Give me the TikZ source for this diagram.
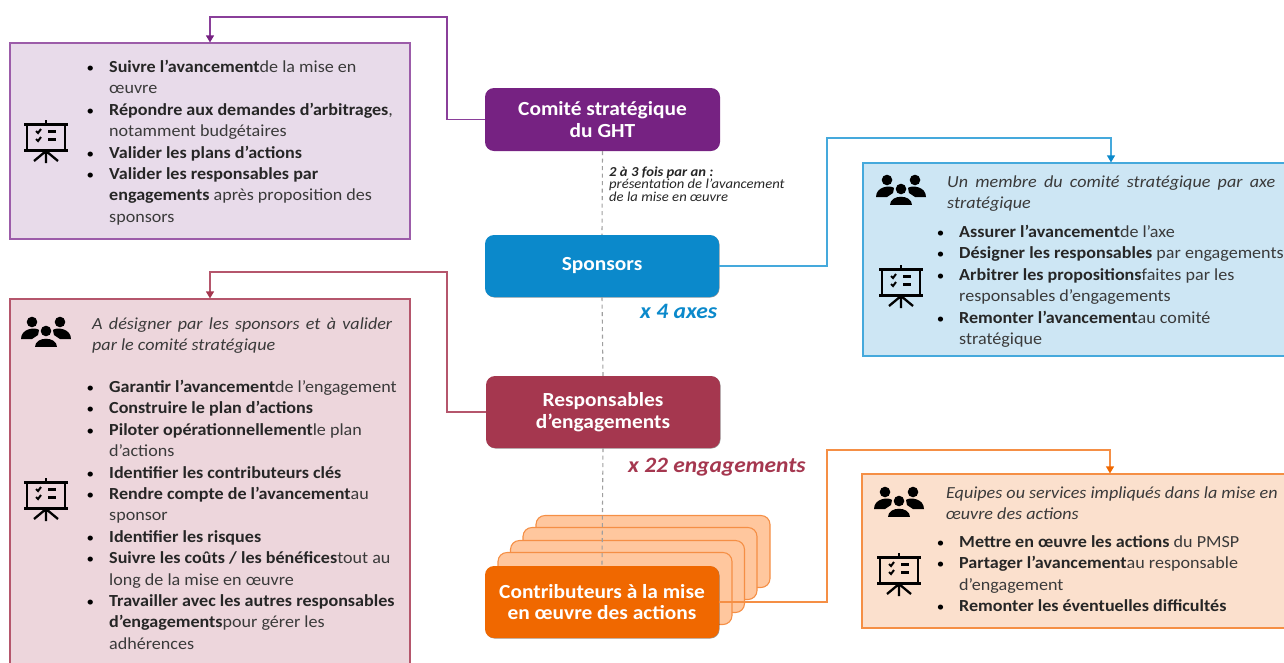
\documentclass[tikz,border=0pt]{standalone}
\usepackage{fontspec}
\setmainfont[FakeStretch=1.07]{Carlito}
\usetikzlibrary{arrows.meta,shadows}
\definecolor{cpurple}{HTML}{762282}
\definecolor{lpurple}{HTML}{8A3F9A}
\definecolor{fpurple}{HTML}{E8DBEA}
\definecolor{cblue}{HTML}{0B89CB}
\definecolor{lblue}{HTML}{45A9DC}
\definecolor{fblue}{HTML}{CDE6F4}
\definecolor{cred}{HTML}{A5374F}
\definecolor{lred}{HTML}{B5566C}
\definecolor{fred}{HTML}{EDD6DC}
\definecolor{corange}{HTML}{F06800}
\definecolor{lorange}{HTML}{F58F45}
\definecolor{forange}{HTML}{FBE0CD}
\definecolor{fcard}{HTML}{FFC79E}
\definecolor{ctext}{HTML}{3A3A3A}
\newcommand\bl{\leavevmode\llap{{\fontsize{14}{14}\selectfont\color{black}\textbullet}\hspace{15pt}}}
\newcommand\fl{\rule{0pt}{12pt}}
\newcommand\bb[1]{\textbf{\color{black!85}#1}}
\tikzset{
  infobox/.style={draw,line width=1.2pt,minimum height=#1,inner sep=0pt},
  head/.style={rounded corners=9pt,minimum width=234pt,text=white,inner sep=0pt,align=center,
    font=\fontsize{20}{21.4}\selectfont\bfseries},
  shadowed/.style={drop shadow={shadow xshift=0.5pt,shadow yshift=-0.5pt,opacity=.4,fill=black}},
  stackcard/.style={draw=lorange,fill=fcard,line width=1.1pt,rounded corners=9pt,minimum width=234pt,minimum height=72pt,inner sep=0pt},
  body/.style={anchor=north west,inner sep=0pt,align=left,text=ctext,font=\fontsize{16.9}{21.4}\selectfont},
  board/.pic={
    \draw[line width=2.6pt] (-19,4) -- (-19,30) (19,4) -- (19,30);
    \draw[line width=3pt] (-22,4) -- (22,4) (-22,30) -- (22,30);
    \draw[line width=1.8pt] (0,0) -- (0,4);
    \draw[line width=2.3pt] (-12,41) -- (0,31) -- (12,41) (0,31) -- (0,43);
    \draw[line width=2pt] (-10,11) -- (-8,13) -- (-5,9) (-10,19) -- (-8,21) -- (-5,17);
    \draw[line width=2.4pt] (2,11.5) -- (10,11.5) (2,19.5) -- (10,19.5);
  },
  people/.pic={
    \fill (-14,-9) circle (5.3pt) (14,-9) circle (5.3pt) (0,0) circle (5.3pt);
    \fill (-25,8) .. controls (-25,-3) and (-10,-4) .. (-7,-1) -- (-8,4) -- (-14,8) -- cycle;
    \fill (25,8) .. controls (25,-3) and (10,-4) .. (7,-1) -- (8,4) -- (14,8) -- cycle;
    \fill (-11,16) .. controls (-11,5) and (11,5) .. (11,16) -- cycle;
  }
}
\begin{document}
\begin{tikzpicture}[x=1pt,y=-1pt]
\useasboundingbox (0,0) rectangle (1284,662);
\clip (0,0) rectangle (1284,662);
% info boxes
\node[infobox=196pt,draw=lpurple!85,fill=fpurple,minimum width=400pt] (bpurple) at (210,141) {};
\node[infobox=402pt,draw=lred,fill=fred,minimum width=400pt] (bred) at (210,500) {};
\node[infobox=193pt,draw=lblue,fill=fblue,minimum width=496pt] (bblue) at (1111,259.5) {};
\node[infobox=154pt,draw=lorange,fill=forange,minimum width=496pt] (borange) at (1110,551) {};
% stacked cards
\node[stackcard] (card1) at (653,551.5) {};
\node[stackcard] (card2) at (640,563.5) {};
\node[stackcard] (card3) at (627.5,576.5) {};
\node[stackcard] (card4) at (615,588.5) {};
% heads
\node[head,fill=cpurple,minimum height=63pt,minimum width=235pt] (comite) at (602.5,119.5) {\fontsize{20}{20.6}\selectfont Comité stratégique\\du GHT};
\node[head,fill=cblue,minimum height=62pt,shadowed] (sponsors) at (602,266) {Sponsors};
\node[head,fill=cred,minimum height=72pt,shadowed] (resp) at (603,412) {Responsables\\d’engagements};
\node[head,fill=corange,minimum height=72pt,shadowed] (contrib) at (602,602) {Contributeurs à la mise\\en œuvre des actions};
% connectors
\draw[gray!75,line width=1.1pt,dash pattern=on 4pt off 3.5pt] (comite.south) -- (sponsors.north);
\draw[gray!75,line width=1.1pt,dash pattern=on 4pt off 3.5pt] (sponsors.south) -- (resp.north);
\draw[gray!75,line width=1.1pt,dash pattern=on 4pt off 3.5pt] (resp.south) -- (contrib.north);
\coordinate (kp) at (447,17);
\coordinate (kr) at (447,272);
\coordinate (kb) at (827,138);
\coordinate (ko) at (827,450);
\draw[line width=1.2pt,draw=lpurple,-{Triangle[length=7pt,width=8pt,color=cpurple]}] (comite.west) -| (kp) -| (bpurple.north);
\draw[line width=1.2pt,draw=lred,-{Triangle[length=7pt,width=8pt,color=cred]}] (resp.west) -| (kr) -| (bred.north);
\draw[line width=1.2pt,draw=lblue,-{Triangle[length=7pt,width=8pt,color=cblue]}] (sponsors.east) -| (kb) -| (bblue.north);
\draw[line width=1.2pt,draw=lorange,-{Triangle[length=7pt,width=8pt,color=corange]}] (contrib.east) -| (ko) -| (borange.north);
% icons
\pic at (46,120) {board};
\pic at (46,478) {board};
\pic at (901,265) {board};
\pic at (899,553) {board};
\pic at (46,331) {people};
\pic at (901,189) {people};
\pic at (899,501) {people};
% notes
\node[anchor=north west,inner sep=0pt,align=left,text=black!85,font=\fontsize{13.7}{11.6}\selectfont\itshape] (note) at (609,165)
  {\rule{0pt}{11pt}\textbf{2 à 3 fois par an :}\\présentation de l’avancement\\de la mise en œuvre};
\node[anchor=base west,inner sep=0pt,text=cblue,font=\fontsize{22}{24}\selectfont\bfseries\itshape] (axes) at (640,318) {x 4 axes};
\node[anchor=base west,inner sep=0pt,text=cred,font=\fontsize{21.9}{24}\selectfont\bfseries\itshape] (eng) at (628,472) {x 22 engagements};
% purple text
\node[body] (tpurple) at (109,60) {\fl\bl\bb{Suivre l’avancement}de la mise en\\
œuvre\\
\bl\bb{Répondre aux demandes d’arbitrages},\\
notamment budgétaires\\
\bl\bb{Valider les plans d’actions}\\
\bl\bb{Valider les responsables par}\\
\bb{engagements} après proposition des\\
sponsors};
% red text
\node[body] (hred) at (92,317) {\fl\itshape\makebox[300pt][s]{A désigner par les sponsors et à valider}\\
\itshape par le comité stratégique};
\node[body] (tred) at (109,380) {\fl\bl\bb{Garantir l’avancement}de l’engagement\\
\bl\bb{Construire le plan d’actions}\\
\bl\bb{Piloter opérationnellement}le plan\\
d’actions\\
\bl\bb{Identifier les contributeurs clés}\\
\bl\bb{Rendre compte de l’avancement}au\\
sponsor\\
\bl\bb{Identifier les risques}\\
\bl\bb{Suivre les coûts / les bénéfices}tout au\\
long de la mise en œuvre\\
\bl\bb{Travailler avec les autres responsables}\\
\bb{d’engagements}pour gérer les\\
adhérences};
% blue text
\node[body] (hblue) at (947,175) {\fl\itshape\makebox[328pt][s]{Un membre du comité stratégique par axe}\\
\itshape stratégique};
\node[body] (tblue) at (959,225) {\fl\bl\bb{Assurer l’avancement}de l’axe\\
\bl\bb{Désigner les responsables} par engagements\\
\bl\bb{Arbitrer les propositions}faites par les\\
responsables d’engagements\\
\bl\bb{Remonter l’avancement}au comité\\
stratégique};
% orange text
\node[body] (horange) at (946,486) {\fl\itshape Equipes ou services impliqués dans la mise en\\
\itshape œuvre des actions};
\node[body] (torange) at (959,535) {\fl\bl\bb{Mettre en œuvre les actions} du PMSP\\
\bl\bb{Partager l’avancement}au responsable\\
d’engagement\\
\bl\bb{Remonter les éventuelles difficultés}};
\end{tikzpicture}
\end{document}
